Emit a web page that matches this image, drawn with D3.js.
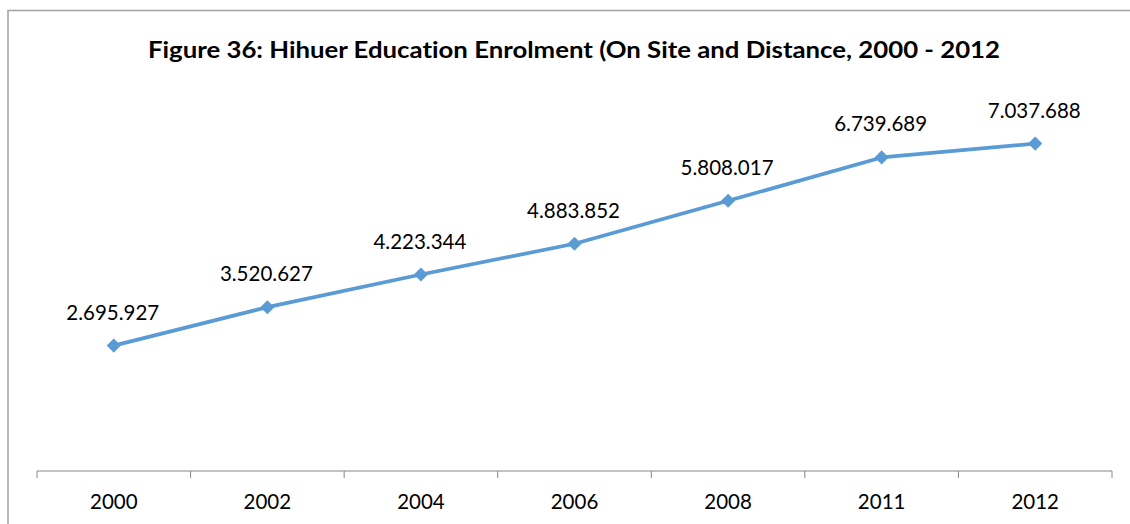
<!DOCTYPE html>
<html><head><meta charset="utf-8">
<script src="https://cdn.jsdelivr.net/npm/d3@7"></script>
<style>
html,body{margin:0;padding:0;background:#fff;}
svg{display:block;}
text{font-family:Lato,"Open Sans","Liberation Sans",sans-serif;font-variant-ligatures:none;font-feature-settings:"liga" 0,"clig" 0;}
</style></head>
<body>
<svg id="chart" width="1130" height="524"></svg>
<script>
const title = "Figure 36: Hihuer Education Enrolment (On Site and Distance, 2000 - 2012";
const categories = ["2000","2002","2004","2006","2008","2011","2012"];
const enrolment = [2695927, 3520627, 4223344, 4883852, 5808017, 6739689, 7037688];
const valueLabels = ["2.695.927","3.520.627","4.223.344","4.883.852","5.808.017","6.739.689","7.037.688"];

const svg = d3.select("#chart");
svg.append("rect").attr("x",8).attr("y",10.5).attr("width",1140).attr("height",540)
  .attr("fill","#fff").attr("stroke","#a6a6a6").attr("stroke-width",1.6);

const x = d3.scaleBand().domain(categories).range([37,1112]).padding(0);
const y = d3.scaleLinear().domain([0,8000000]).range([471,98.8]);

// title
const t = svg.append("text").attr("x",574).attr("y",58).attr("text-anchor","middle")
  .attr("font-weight","bold").attr("font-size",22).attr("fill","#000").text(title);
t.attr("textLength",852).attr("lengthAdjust","spacingAndGlyphs");

// axis
const axis = d3.axisBottom(x).tickSize(0).tickPadding(0);
const g = svg.append("g").attr("transform","translate(0,471)").call(axis);
g.select(".domain").remove();
g.selectAll(".tick text").remove();
g.append("line").attr("x1",37).attr("x2",1112).attr("y1",0).attr("y2",0)
  .attr("stroke","#868686").attr("stroke-width",1);
const bounds = categories.map(c=>x(c)).concat([x.range()[1]]);
g.selectAll(".sep").data(bounds).enter().append("line").attr("class","sep")
  .attr("x1",d=>d).attr("x2",d=>d).attr("y1",0).attr("y2",7)
  .attr("stroke","#868686").attr("stroke-width",1);
g.selectAll(".lab").data(categories).enter().append("text").attr("class","lab")
  .attr("x",d=>x(d)+x.bandwidth()/2).attr("y",38).attr("text-anchor","middle")
  .attr("font-size",20.5).attr("fill","#000").text(d=>d);

// line
const cx = (d,i)=>x(categories[i])+x.bandwidth()/2;
const line = d3.line().x((d,i)=>cx(d,i)).y(d=>y(d));
svg.append("path").datum(enrolment).attr("d",line).attr("fill","none")
  .attr("stroke","#5b9bd5").attr("stroke-width",3.75).attr("stroke-linejoin","round");
const sym = d3.symbol().type(d3.symbolSquare).size(100);
svg.selectAll(".mk").data(enrolment).enter().append("path").attr("class","mk")
  .attr("d",sym()).attr("fill","#5b9bd5")
  .attr("transform",(d,i)=>`translate(${cx(d,i)},${y(d)}) rotate(45)`);

svg.selectAll(".vl").data(enrolment).enter().append("text").attr("class","vl")
  .attr("x",(d,i)=>cx(d,i)-1).attr("y",d=>y(d)-26).attr("text-anchor","middle")
  .attr("font-size",20.5).attr("fill","#000").text((d,i)=>valueLabels[i]);
</script>
</body></html>
